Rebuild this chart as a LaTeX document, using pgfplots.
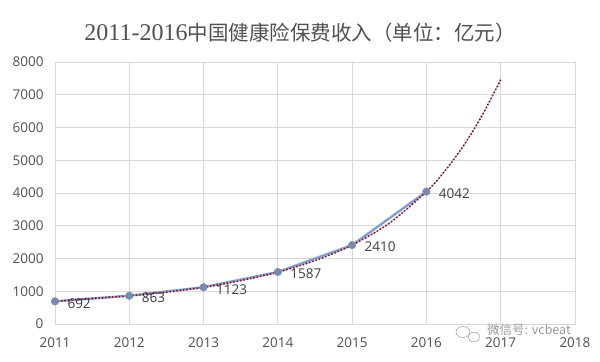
\documentclass[border=0pt]{standalone}
\usepackage{fontspec}
\usepackage{pgfplots}
\pgfplotsset{compat=1.18}
\setmainfont{Liberation Serif}
\newfontfamily\cjk{Noto Sans CJK SC}
\newfontfamily\tickfont{Open Sans}
\definecolor{linec}{RGB}{130,158,205}
\definecolor{markc}{RGB}{122,138,175}
\definecolor{trendc}{RGB}{100,25,50}
\definecolor{halo}{RGB}{235,160,180}
\definecolor{gridc}{RGB}{217,217,217}
\definecolor{txt}{RGB}{80,80,80}
\definecolor{lbl}{RGB}{60,60,60}
\begin{document}
\begin{tikzpicture}
\begin{axis}[name=ax, scale only axis, width=520pt, height=262pt,
  xmin=2011, xmax=2018, ymin=0, ymax=8000,
  xtick={2011,2012,...,2018}, ytick={0,1000,...,8000},
  grid=major, grid style={draw=gridc, line width=0.7pt},
  axis line style={draw=gridc, line width=0.7pt},
  major tick length=0pt,
  tick label style={font=\tickfont\fontsize{13.5}{13.5}\selectfont, text=txt},
  yticklabel style={xshift=-8pt},
  xticklabel style={yshift=-10pt},
  /pgf/number format/assume math mode=true,
  /pgf/number format/1000 sep={},
  scaled ticks=false, clip=false]
\addplot[color=linec, line width=2.4pt] coordinates {
(2011,692) (2012,863) (2013,1123) (2014,1587) (2015,2410) (2016,4042)};
\addplot[smooth, color=halo, line width=0.7pt] coordinates {
(2011,692) (2011.5,779) (2012,863) (2012.5,973) (2013,1123) (2013.5,1324)
(2014,1587) (2014.5,1935) (2015,2410) (2015.5,3078) (2016,4042)
(2016.25,4678) (2016.5,5445) (2016.75,6370) (2017,7460)};
\addplot[smooth, color=trendc, line width=2.1pt, line cap=round, dash pattern=on 0pt off 3.4pt] coordinates {
(2011,692) (2011.5,779) (2012,863) (2012.5,973) (2013,1123) (2013.5,1324)
(2014,1587) (2014.5,1935) (2015,2410) (2015.5,3078) (2016,4042)
(2016.25,4678) (2016.5,5445) (2016.75,6370) (2017,7460)};
\addplot[only marks, mark=*, mark size=3.8pt, mark options={fill=markc, draw=markc},
  nodes near coords, point meta=y,
  nodes near coords style={anchor=west, xshift=9pt, yshift=-2pt, font=\tickfont\fontsize{13.5}{13.5}\selectfont, text=lbl}]
coordinates {
(2011,692) (2012,863) (2013,1123) (2014,1587) (2015,2410) (2016,4042)};
\end{axis}
\node[text=txt, anchor=base] at ([xshift=245pt,yshift=283pt]ax.south west)
 {\fontsize{24}{24}\selectfont 2011-2016\cjk\fontsize{20.5}{20.5}\selectfont 中国健康险保费收入（单位：亿元）};
\node[text=black!40, anchor=west, inner sep=0pt] at ([xshift=432pt,yshift=-6pt]ax.south west)
 {\cjk\fontsize{12.5}{12.5}\selectfont 微信号: vcbeat};
\draw[black!35, line width=0.6pt] ([xshift=408pt,yshift=-8pt]ax.south west) ellipse (7pt and 5.5pt);
\draw[black!35, line width=0.6pt, fill=white] ([xshift=419pt,yshift=-13pt]ax.south west) ellipse (6pt and 4.8pt);
\pgfresetboundingbox
\path[use as bounding box] ([xshift=-55pt,yshift=-37pt]ax.south west) rectangle ([xshift=25pt,yshift=62pt]ax.north east);
\end{tikzpicture}
\end{document}
